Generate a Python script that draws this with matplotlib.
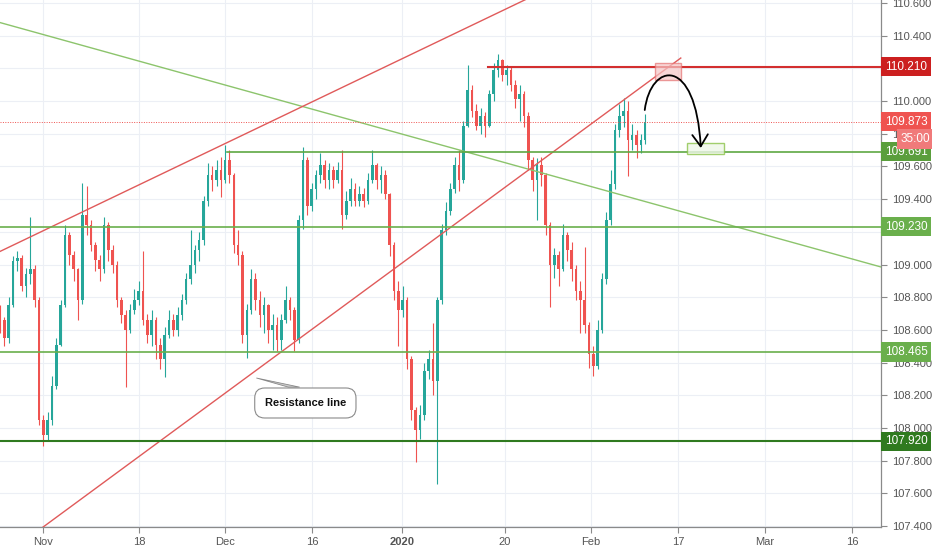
import numpy as np
import matplotlib
matplotlib.use('Agg')
import matplotlib.pyplot as plt
from matplotlib.patches import Rectangle, Polygon, FancyArrowPatch
from matplotlib.path import Path

plt.rcParams['font.family'] = ['Liberation Sans', 'DejaVu Sans']

# USDJPY, two candles per trading day (x in trading days from Oct 25)
first_open = 108.70
closes = [
    108.66, 108.55, 108.75, 109.02, 109.04, 108.87, 108.94, 108.97, 108.78, 108.05,
    107.96, 108.05, 108.26, 108.51, 108.75, 109.18, 109.06, 108.97, 108.78, 109.30,
    109.24, 109.12, 109.03, 108.97, 109.24, 109.09, 109.00, 108.78, 108.69, 108.60,
    108.72, 108.78, 108.84, 108.66, 108.57, 108.66, 108.51, 108.42, 108.57, 108.66,
    108.60, 108.69, 108.78, 108.91, 109.00, 109.09, 109.15, 109.39, 109.55, 109.52,
    109.58, 109.52, 109.64, 109.55, 109.12, 109.06, 108.57, 108.72, 108.91, 108.78,
    108.69, 108.75, 108.60, 108.63, 108.54, 108.66, 108.78, 108.72, 108.54, 109.27,
    109.64, 109.36, 109.46, 109.55, 109.61, 109.52, 109.58, 109.52, 109.58, 109.30,
    109.39, 109.46, 109.39, 109.43, 109.39, 109.52, 109.61, 109.52, 109.55, 109.43,
    109.12, 108.84, 108.72, 108.78, 108.42, 108.11, 107.99, 108.08, 108.35, 108.42,
    108.29, 108.78, 109.21, 109.33, 109.46, 109.61, 109.52, 109.85, 110.07, 109.94,
    109.85, 109.91, 109.85, 110.04, 110.19, 110.25, 110.16, 110.19, 110.10, 110.01,
    110.04, 109.91, 109.64, 109.52, 109.61, 109.55, 109.24, 109.00, 109.06, 108.97,
    109.18, 109.09, 108.97, 108.84, 108.78, 108.63, 108.45, 108.38, 108.60, 108.91,
    109.27, 109.49, 109.82, 109.91, 109.94, 109.76, 109.79, 109.73, 109.76, 109.87,
]
highs = [
    108.75, 108.68, 108.80, 109.05, 109.08, 109.06, 108.98, 109.29, 109.00, 108.80,
    108.08, 108.10, 108.32, 108.55, 108.78, 109.24, 109.20, 109.08, 108.98, 109.50,
    109.48, 109.27, 109.14, 109.06, 109.29, 109.26, 109.12, 109.02, 108.80, 108.72,
    108.76, 108.85, 108.90, 109.08, 108.70, 108.72, 108.68, 108.55, 108.62, 108.72,
    108.70, 108.74, 108.82, 108.95, 109.21, 109.12, 109.20, 109.42, 109.62, 109.60,
    109.64, 109.66, 109.73, 109.70, 109.56, 109.21, 109.08, 108.76, 108.97, 108.95,
    108.84, 108.80, 108.76, 108.70, 108.68, 108.70, 108.87, 108.80, 108.74, 109.30,
    109.72, 109.66, 109.50, 109.58, 109.68, 109.64, 109.62, 109.60, 109.63, 109.70,
    109.45, 109.53, 109.50, 109.48, 109.47, 109.56, 109.70, 109.62, 109.60, 109.58,
    109.44, 109.14, 108.90, 108.87, 108.80, 108.44, 108.13, 108.14, 108.40, 108.48,
    108.64, 108.80, 109.25, 109.38, 109.50, 109.66, 109.70, 109.88, 110.22, 110.10,
    109.98, 109.96, 109.93, 110.07, 110.23, 110.29, 110.26, 110.22, 110.21, 110.13,
    110.10, 110.06, 109.93, 109.66, 109.65, 109.66, 109.56, 109.26, 109.10, 109.08,
    109.25, 109.20, 109.14, 109.00, 108.90, 109.11, 108.65, 108.50, 108.66, 108.95,
    109.32, 109.58, 109.86, 109.98, 110.02, 110.00, 109.86, 109.82, 109.80, 109.92,
]
lows = [
    108.58, 108.50, 108.52, 108.74, 108.96, 108.84, 108.80, 108.88, 108.74, 108.02,
    107.89, 107.92, 108.02, 108.24, 108.50, 108.74, 109.00, 108.90, 108.66, 108.76,
    109.18, 109.08, 108.96, 108.90, 108.95, 109.02, 108.95, 108.74, 108.64, 108.25,
    108.58, 108.70, 108.75, 108.63, 108.52, 108.50, 108.42, 108.36, 108.31, 108.55,
    108.56, 108.56, 108.66, 108.76, 108.88, 108.95, 109.02, 109.12, 109.36, 109.45,
    109.48, 109.41, 109.50, 109.50, 109.07, 109.00, 108.52, 108.43, 108.70, 108.72,
    108.62, 108.58, 108.52, 108.48, 108.47, 108.48, 108.64, 108.66, 108.47, 108.52,
    109.22, 109.30, 109.33, 109.40, 109.50, 109.47, 109.46, 109.47, 109.50, 109.22,
    109.28, 109.36, 109.36, 109.36, 109.35, 109.37, 109.50, 109.46, 109.44, 109.40,
    109.05, 108.78, 108.50, 108.68, 108.36, 108.05, 107.79, 107.93, 108.05, 108.30,
    108.20, 107.66, 108.76, 109.18, 109.30, 109.44, 109.45, 109.50, 109.84, 109.90,
    109.82, 109.80, 109.78, 109.84, 110.00, 110.15, 110.12, 110.10, 110.06, 109.96,
    109.88, 109.84, 109.58, 109.45, 109.27, 109.48, 109.18, 108.74, 108.92, 108.87,
    108.96, 109.02, 108.90, 108.78, 108.58, 108.58, 108.37, 108.32, 108.36, 108.58,
    108.88, 109.24, 109.46, 109.78, 109.84, 109.54, 109.70, 109.65, 109.68, 109.74,
]

date_ticks = [4.97, 16.07, 26.0, 36.07, 46.47, 58.27, 68.2, 78.27, 88.3, 98.4]
date_labels = ['Nov', '18', 'Dec', '16', '2020', '20', 'Feb', '17', 'Mar', '16']

# drawn levels and lines
green_levels = [109.691, 109.230, 108.465, 107.920]
green_starts = [26.2, 0, 0, 0]
green_colors = ['#5fa843', '#6aaf4c', '#6aaf4c', '#2f7a1f']
green_widths = [1.2, 1.2, 1.2, 1.5]
red_level = 110.210
red_level_start = 56.4
last_price = 109.873
green_trend = ([0, 101.73], [110.48, 108.985])
upper_channel = ([0, 62.0], [109.08, 110.654])
lower_channel = ([4.97, 78.61], [107.394, 110.263])
red_box = (75.61, 110.128, 3.0, 0.104)
green_box = (79.31, 109.676, 4.27, 0.067)
curve_pts = [(74.45, 109.945), (75.14, 110.239), (80.35, 110.281), (80.92, 109.713)]

fig = plt.figure(figsize=(9.32, 5.5), dpi=100)
ax = fig.add_axes([0, 23 / 550, 881 / 932, 527 / 550])

n = len(closes)
x = np.arange(n) * 0.5
c = np.array(closes)
o = np.array([first_open] + closes[:-1])
up = c >= o
cols = np.where(up, '#26a69a', '#ef5350')
ax.vlines(x, lows, highs, colors=cols, linewidth=0.8, zorder=2)
ax.bar(x, np.maximum(np.abs(c - o), 0.008), bottom=np.minimum(o, c), width=0.3,
       color=cols, linewidth=0, zorder=2)

# lines
ax.plot(*green_trend, color='#8cc46c', lw=1.0, zorder=3)
ax.plot(*upper_channel, color='#e05a5a', lw=1.0, zorder=3)
ax.plot(*lower_channel, color='#e05a5a', lw=1.0, zorder=3)
for lv, st, col, w in zip(green_levels, green_starts, green_colors, green_widths):
    ax.plot([st, 101.73], [lv, lv], color=col, lw=w, zorder=3)
ax.plot([red_level_start, 101.73], [red_level, red_level], color='#d32f2f', lw=1.5, zorder=3)
ax.axhline(last_price, color='#ef5350', lw=0.7, ls=(0, (1, 1.5)), zorder=3)

ax.add_patch(Rectangle(red_box[:2], red_box[2], red_box[3], fc='#f6c6c6', ec='#e57373',
                       lw=1.0, alpha=0.7, zorder=4))
ax.add_patch(Rectangle(green_box[:2], green_box[2], green_box[3], fc='#eef7e8', ec='#8bc34a',
                       lw=1.0, alpha=0.8, zorder=4))
arrow = FancyArrowPatch(path=Path(curve_pts, [Path.MOVETO, Path.CURVE4, Path.CURVE4, Path.CURVE4]),
                        arrowstyle='->,head_length=0.6,head_width=0.4', mutation_scale=14,
                        color='black', lw=1.3, shrinkA=0, shrinkB=0, zorder=5)
ax.add_patch(arrow)

# callout
ax.add_patch(Polygon([(29.6, 108.306), (33.3, 108.25), (34.6, 108.25)], closed=True,
                     fc='#cccccc', ec='#888888', lw=0.6, zorder=5))
ax.text(35.26, 108.153, 'Resistance line', fontsize=8, fontweight='bold', ha='center',
        va='center', color='#111111', zorder=6,
        bbox=dict(boxstyle='round,pad=0.9', fc='white', ec='#8a8a8a', lw=0.8))

# axes
ax.set_xlim(0, 101.73)
ax.set_ylim(107.3945, 110.618)
price_ticks = np.round(np.arange(107.4, 110.61, 0.2), 1)
hidden = [110.2, 109.2]   # fully covered by level labels on the scale
ax.set_yticks(price_ticks)
ax.set_yticklabels(['' if p in hidden else '%.3f' % p for p in price_ticks])
ax.yaxis.tick_right()
ax.set_xticks(date_ticks)
ax.set_xticklabels(date_labels)
ax.get_xticklabels()[4].set_fontweight('bold')
ax.tick_params(axis='both', labelsize=8, labelcolor='#555555', color='#8a8a8a',
               length=4, width=0.8)
ax.tick_params(axis='y', pad=4)
ax.tick_params(axis='x', pad=3)
ax.grid(True, color='#eceff5', lw=0.8, zorder=0)
ax.set_axisbelow(True)
for s in ['top', 'left']:
    ax.spines[s].set_visible(False)
for s in ['right', 'bottom']:
    ax.spines[s].set_color('#8a8a8a')
    ax.spines[s].set_linewidth(0.9)

# price labels on the right scale
tr = ax.get_yaxis_transform()
right_labels = [(red_level, '110.210', '#cc1f1f'), (last_price, '109.873', '#ef5350'),
                (green_levels[0], '109.691', '#5a9e3c'), (green_levels[1], '109.230', '#6aaf4c'),
                (green_levels[2], '108.465', '#6aaf4c'), (green_levels[3], '107.920', '#2f7a1f')]
for p, t, fc in right_labels:
    ax.text(1 + 4 / 881, p, t, transform=tr, ha='left', va='center', fontsize=8.5,
            color='white', clip_on=False, zorder=10,
            bbox=dict(boxstyle='square,pad=0.3', fc=fc, ec='none'))
ax.text(1 + 20 / 881, 109.768, '35:00', transform=tr, ha='left', va='center', fontsize=8.5,
        color='white', clip_on=False, zorder=10,
        bbox=dict(boxstyle='square,pad=0.3', fc='#f07a7a', ec='none'))

fig.savefig('out.png', dpi=100)
